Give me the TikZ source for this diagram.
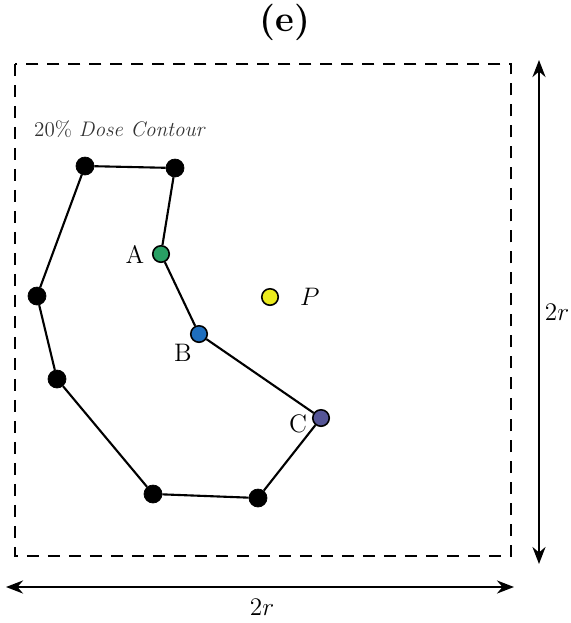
\documentclass[tikz,border=0pt]{standalone}
\usepackage{amsmath,amssymb}
\usepackage{tikz}
\usetikzlibrary{calc,arrows.meta,positioning}
\definecolor{ptgreen}{RGB}{40,160,100}
\definecolor{ptblue}{RGB}{30,110,190}
\definecolor{ptpurple}{RGB}{85,85,150}
\definecolor{ptyellow}{RGB}{235,235,30}
\tikzset{
  cvertex/.style={circle, fill=black, draw=black, minimum size=3.6mm, inner sep=0pt},
  cmark/.style  ={circle, draw=black, line width=0.9pt, minimum size=3.3mm, inner sep=0pt},
  cline/.style  ={line width=1.2pt, black, line join=round},
  cbox/.style   ={line width=1.3pt, dash pattern=on 2.4mm off 1.8mm},
  cdim/.style   ={{Stealth[length=3.4mm,width=2.6mm]}-{Stealth[length=3.4mm,width=2.6mm]}, line width=1.5pt},
  clabel/.style ={font=\Large},
}
\begin{document}
\begin{tikzpicture}[x=0.02cm, y=-0.02cm]
  \useasboundingbox (0,0) rectangle (571,623);
  \node[font=\huge\bfseries] (title) at (285,22) {(e)};
  % square and dimensions
  \draw[cbox] (15,64) rectangle (511,556);
  \coordinate (vtop) at (539,60);  \coordinate (vbot) at (539,564);
  \coordinate (hlft) at (6,587);   \coordinate (hrgt) at (514,587);
  \draw[cdim] (vtop) -- (vbot);
  \draw[cdim] (hlft) -- (hrgt);
  \node[clabel, inner sep=0pt] (vlab) at (557,312) {$2r$};
  \node[clabel] (hlab) at (262,607) {$2r$};
  \node[font=\large, text=black!80, anchor=west] (cont) at (28,129) {20\% \textit{Dose Contour}};
  % contour
  \node[cvertex] (v1) at (85,166) {};
  \node[cvertex] (v2) at (175,168) {};
  \node[cmark, fill=ptgreen] (vA) at (161,254) {};
  \node[cmark, fill=ptblue] (vB) at (199,334) {};
  \node[cmark, fill=ptpurple] (vC) at (321,418) {};
  \node[cvertex] (v6) at (258,498) {};
  \node[cvertex] (v7) at (153,494) {};
  \node[cvertex] (v8) at (57,379) {};
  \node[cvertex] (v9) at (37,296) {};
  \draw[cline] (v1) -- (v2) -- (vA) -- (vB) -- (vC) -- (v6) -- (v7) -- (v8) -- (v9) -- (v1);
  \node[clabel, left=0.3mm of vA] (lA) {A};
  \node[clabel] (lB) at (183,353) {B};
  \node[clabel] (lC) at (298,424) {C};
  % point P
  \node[cmark, fill=ptyellow] (pt) at (270,297) {};
  \node[clabel, right=3mm of pt] (lP) {$P$};
\end{tikzpicture}
\end{document}
